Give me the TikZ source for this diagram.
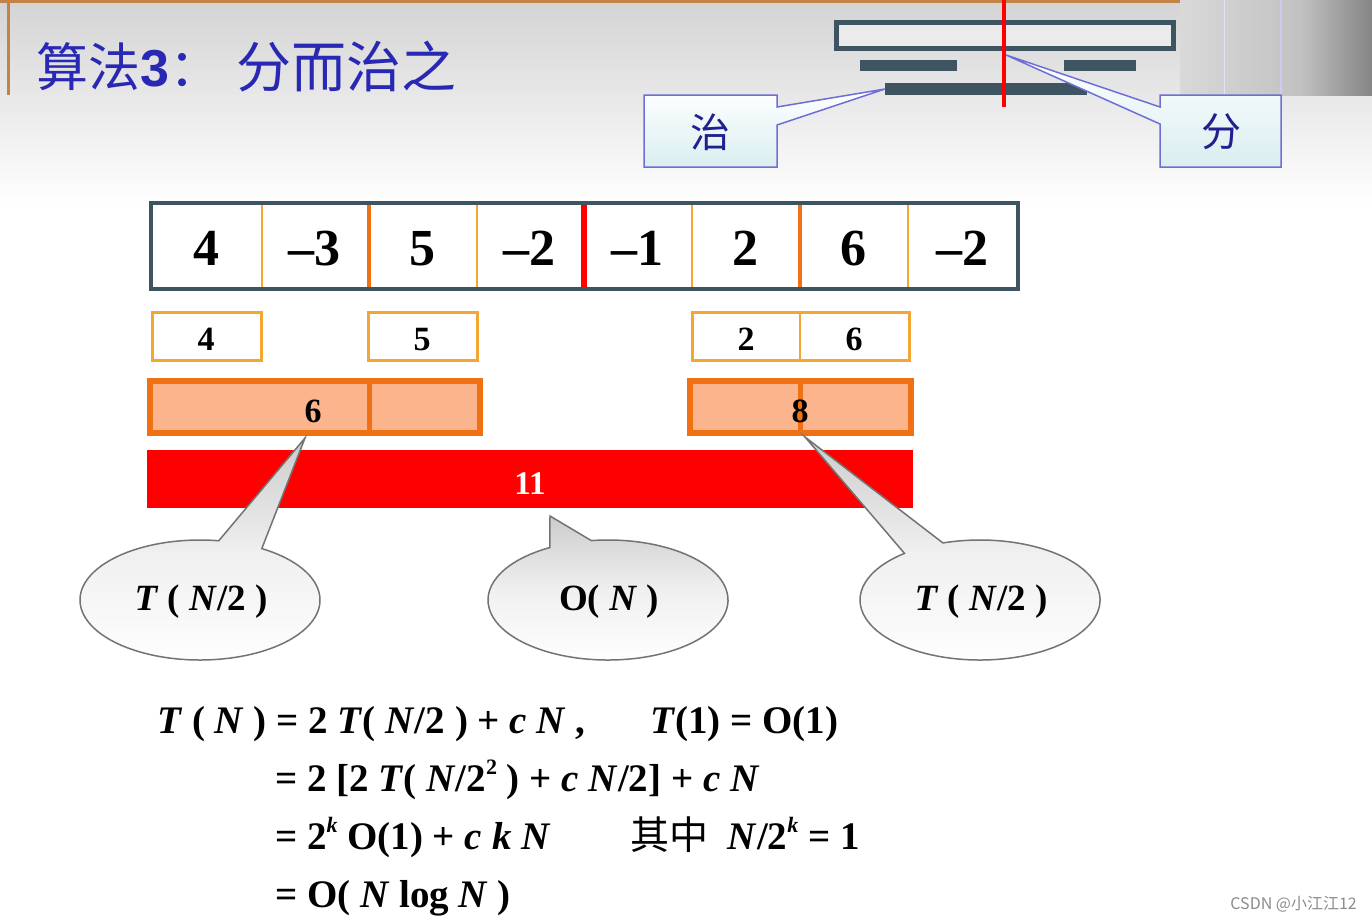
\documentclass[tikz,border=0pt]{standalone}
\usepackage{fontspec}
\setmainfont{Liberation Serif}
\newfontfamily\cjk{Noto Sans CJK SC}
\newfontfamily\arialf{Liberation Sans}
\definecolor{slate}{RGB}{62,84,96}
\definecolor{lorange}{RGB}{245,165,50}
\definecolor{dorange}{RGB}{240,112,20}
\definecolor{salmon}{RGB}{251,180,140}
\definecolor{ttlblue}{RGB}{40,40,180}
\definecolor{cblue}{RGB}{110,110,215}
\definecolor{framec}{RGB}{195,130,70}
\definecolor{pale}{RGB}{218,238,240}
\definecolor{redbar}{RGB}{255,0,0}
\begin{document}
\begin{tikzpicture}[x=1pt,y=-1pt,
  big/.style={font=\fontsize{52}{56}\selectfont\bfseries, anchor=base, inner sep=0},
  mid/.style={font=\fontsize{34}{38}\selectfont\bfseries, anchor=base, inner sep=0},
  eq/.style={font=\fontsize{39}{42}\selectfont\bfseries, anchor=base west, inner sep=0},
  bub/.style={font=\fontsize{37}{40}\selectfont\bfseries, inner sep=0},
  thindiv/.style={lorange, line width=2.5pt},
  thickdiv/.style={dorange, line width=4.5pt},
  smallbox/.style={draw=lorange, line width=3pt, fill=white},
  sumbox/.style={draw=dorange, line width=6pt, fill=salmon},
  callout/.style={top color=black!20, bottom color=white, middle color=black!6, draw=black!55, line width=1.5pt},
  tag/.style={top color=white, bottom color=pale, draw=cblue, line width=1.5pt},
  bar/.style={fill=slate, draw=none}]
\useasboundingbox (0,0) rectangle (1372,921);
% background
\fill[white] (0,0) rectangle (1372,921);
\shade[top color=black!17, bottom color=white] (0,0) rectangle (1372,205);
\shade[left color=black!15, right color=black!24] (1180,0) rectangle (1300,95);
\shade[left color=black!24, right color=black!48] (1300,0) rectangle (1372,95);
\draw[cblue!35, line width=1.2pt] (1281,0) -- (1281,95);
\draw[cblue!20, line width=1pt] (1224,0) -- (1224,95);
\fill[framec] (0,0) rectangle (1180,3);
\fill[framec] (7,0) rectangle (10,95);
% title
\node[anchor=west, inner sep=0, text=ttlblue, font=\fontsize{52}{56}\selectfont] (title) at (36,67)
  {{\cjk 算法}{\arialf\bfseries 3}{\cjk ：}};
\node[anchor=west, inner sep=0, text=ttlblue, font=\fontsize{55}{58}\selectfont] (title2) at (236,67)
  {{\cjk 分而治之}};
% top-right sketch
\draw[draw=slate, line width=5pt, fill=white!92!black] (836,22) rectangle (1173,48);
\fill[bar] (860,60) rectangle (957,71);
\fill[bar] (1064,60) rectangle (1136,71);
\fill[bar] (885,83) rectangle (1087,95);
\draw[redbar, line width=4pt] (1004,0) -- (1004,107);
\shadedraw[tag] (644,95) -- (777,95) -- (777,107) -- (885,89) -- (777,125) -- (777,167) -- (644,167) -- cycle;
\shadedraw[tag] (1160,95) -- (1281,95) -- (1281,167) -- (1160,167) -- (1160,124) -- (1006,55) -- (1160,107) -- cycle;
\node[text=ttlblue!80!black, font=\cjk\fontsize{40}{44}\selectfont] (zhi) at (710,132) {治};
\node[text=ttlblue!80!black, font=\cjk\fontsize{40}{44}\selectfont] (fen) at (1221,132) {分};
% main array
\draw[draw=slate, line width=4pt, fill=white] (151,203) rectangle (1018,289);
\draw[thindiv] (262,205) -- (262,287);
\draw[thindiv] (477,205) -- (477,287);
\draw[thindiv] (692,205) -- (692,287);
\draw[thindiv] (908,205) -- (908,287);
\draw[thickdiv] (369,205) -- (369,287);
\draw[thickdiv] (800,205) -- (800,287);
\draw[redbar, line width=6pt] (584,205) -- (584,287);
\node[big] (a1) at (206,265) {4};
\node[big] (a2) at (314,265) {–3};
\node[big] (a3) at (422,265) {5};
\node[big] (a4) at (529,265) {–2};
\node[big] (a5) at (637,265) {–1};
\node[big] (a6) at (745,265) {2};
\node[big] (a7) at (853,265) {6};
\node[big] (a8) at (962,265) {–2};
% second row
\draw[smallbox] (152,312) rectangle (261,360);
\draw[smallbox] (368,312) rectangle (477,360);
\draw[smallbox] (692,312) rectangle (909,360);
\draw[lorange, line width=2.5pt] (800,312) -- (800,360);
\node[mid] (b1) at (206,350) {4};
\node[mid] (b2) at (422,350) {5};
\node[mid] (b3) at (746,350) {2};
\node[mid] (b4) at (854,350) {6};
% third row
\draw[sumbox] (150,381) rectangle (480,433);
\draw[dorange, line width=5pt] (369,381) -- (369,433);
\draw[sumbox] (690,381) rectangle (911,433);
\draw[dorange, line width=5pt] (800,381) -- (800,433);
\node[mid] (c1) at (313,422) {6};
\node[mid] (c2) at (800,422) {8};
% red bar
\fill[redbar] (147,450) rectangle (913,508);
\node[mid, text=white, font=\fontsize{33}{36}\selectfont\bfseries] (d1) at (530,494) {11};
% callouts
\shadedraw[callout] (200,600) ++(-59:120 and 60) arc[start angle=-59, end angle=279, x radius=120, y radius=60] -- (305,438) -- cycle;
\shadedraw[callout] (608,600) ++(-98:120 and 60) arc[start angle=-98, end angle=241, x radius=120, y radius=60] -- (550,516) -- cycle;
\shadedraw[callout] (980,600) ++(-108:120 and 60) arc[start angle=-108, end angle=231, x radius=120, y radius=60] -- (805,437) -- cycle;
\node[bub] (t1) at (201,602) {\textit{T} ( \textit{N}/2 )};
\node[bub] (t2) at (609,602) {O( \textit{N} )};
\node[bub] (t3) at (981,602) {\textit{T} ( \textit{N}/2 )};
% equations
\node[eq] (e1) at (157,733) {\textit{T} ( \textit{N} ) = 2 \textit{T}( \textit{N}/2 ) + \textit{c N} ,};
\node[eq] (e1b) at (650,733) {\textit{T}(1) = O(1)};
\node[eq] (e2) at (275,791) {= 2 [2 \textit{T}( \textit{N}/2\raisebox{0.42em}{\fontsize{22}{22}\selectfont 2} ) + \textit{c N}/2] + \textit{c N}};
\node[eq] (e3) at (275,849) {= 2\raisebox{0.42em}{\fontsize{22}{22}\selectfont\textit{k}} O(1) + \textit{c k N}};
\node[eq] (e3b) at (630,849) {{\cjk\mdseries 其中}\ \ \textit{N}/2\raisebox{0.42em}{\fontsize{22}{22}\selectfont\textit{k}} = 1};
\node[eq] (e4) at (275,907) {= O( \textit{N} log \textit{N} )};
% watermark
\node[text=black!45, font=\cjk\fontsize{16}{18}\selectfont, anchor=base east, inner sep=0] (wm) at (1357,909) {CSDN @小江江12};
\end{tikzpicture}
\end{document}
